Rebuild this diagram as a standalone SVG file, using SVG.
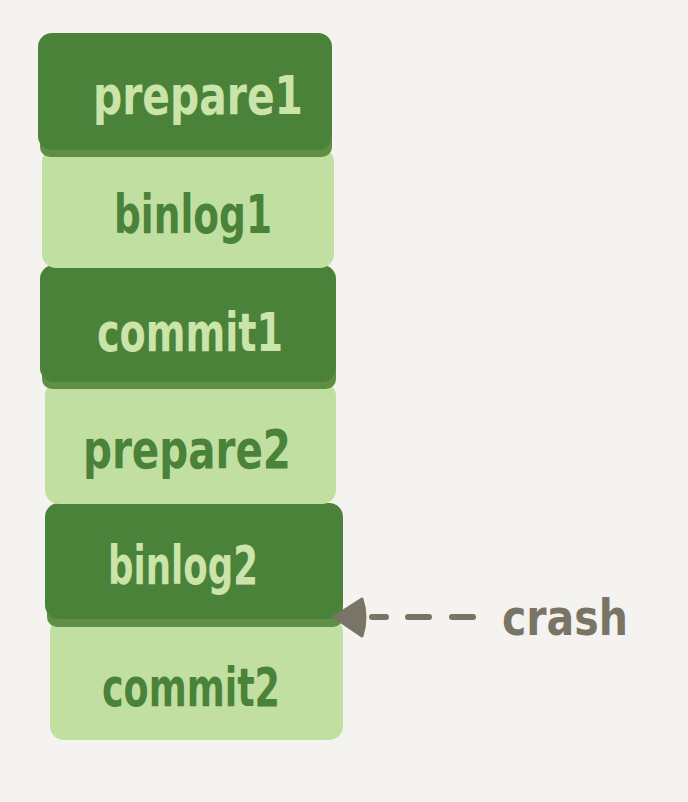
<svg xmlns="http://www.w3.org/2000/svg" width="688" height="802" viewBox="0 0 688 802">
  <defs>
    <style>
      .dark { fill: #4b8239; }
      .light { fill: #c1dfa1; }
      .shade { fill: #5e8f45; }
      .lbl { font-family: "DejaVu Sans", "Liberation Sans", sans-serif; font-size: 54px; font-weight: bold; text-anchor: middle; }
      .on-dark { fill: #cbe4aa; }
      .on-light { fill: #4b8239; }
      .crash { font-family: "DejaVu Sans", "Liberation Sans", sans-serif; font-size: 50px; font-weight: bold; fill: #7a7466; }
    </style>
  </defs>
  <rect width="688" height="802" fill="#f4f3ef"/>

  <!-- stacked log steps, drawn bottom-up so each dark block overlaps the one below -->
  <g id="commit2">
    <rect class="light" x="50" y="618" width="293" height="122" rx="14"/>
    <text class="lbl on-light" x="191" y="706" textLength="178" lengthAdjust="spacingAndGlyphs">commit2</text>
  </g>
  <g id="binlog2">
    <rect class="shade" x="47" y="600" width="296" height="27" rx="10"/>
    <rect class="dark" x="45" y="503" width="298" height="116" rx="14"/>
    <text class="lbl on-dark" x="183" y="584" textLength="150" lengthAdjust="spacingAndGlyphs">binlog2</text>
  </g>
  <g id="prepare2">
    <rect class="light" x="45" y="382" width="291" height="122" rx="14"/>
    <text class="lbl on-light" x="187" y="468" textLength="208" lengthAdjust="spacingAndGlyphs">prepare2</text>
  </g>
  <g id="commit1">
    <rect class="shade" x="42" y="362" width="294" height="27" rx="10"/>
    <rect class="dark" x="40" y="265" width="296" height="117" rx="14"/>
    <text class="lbl on-dark" x="190" y="351" textLength="186" lengthAdjust="spacingAndGlyphs">commit1</text>
  </g>
  <g id="binlog1">
    <rect class="light" x="42" y="148" width="292" height="120" rx="14"/>
    <text class="lbl on-light" x="193" y="233" textLength="158" lengthAdjust="spacingAndGlyphs">binlog1</text>
  </g>
  <g id="prepare1">
    <rect class="shade" x="40" y="130" width="292" height="27" rx="10"/>
    <rect class="dark" x="38" y="33" width="294" height="117" rx="14"/>
    <text class="lbl on-dark" x="198" y="114" textLength="210" lengthAdjust="spacingAndGlyphs">prepare1</text>
  </g>

  <!-- crash pointer -->
  <g id="connectors">
    <path d="M372 617 H386 M408 617 H429 M452 617 H473" stroke="#7a7466" stroke-width="6" stroke-linecap="round" fill="none"/>
    <path d="M334 617 L362 599 Q368 617 362 636 Z" fill="#7a7466" stroke="#7a7466" stroke-width="3" stroke-linejoin="round"/>
  </g>
  <g id="crash">
    <text class="crash" x="502" y="635" textLength="126" lengthAdjust="spacingAndGlyphs">crash</text>
  </g>
</svg>
